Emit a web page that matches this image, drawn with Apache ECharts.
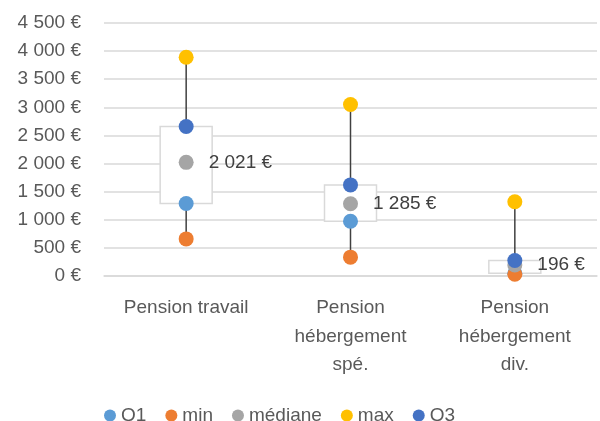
<!DOCTYPE html>
<html>
<head>
<meta charset="utf-8">
<script src="https://cdn.jsdelivr.net/npm/echarts@6/dist/echarts.min.js"></script>
<style>
html, body { margin: 0; padding: 0; background: #fff; }
#chart { width: 600px; height: 421px; }
</style>
</head>
<body>
<div id="chart"></div>
<script>
var categories = ['Pension travail', 'Pension\nhébergement\nspé.', 'Pension\nhébergement\ndiv.']
var q1 = [1290, 975, 50]
var minV = [660, 335, 30]
var mediane = [2021, 1285, 196]
var maxV = [3890, 3050, 1320]
var q3 = [2660, 1620, 275]

var font = 'Liberation Sans'
function euro (v) {
  return String(Math.round(v)).replace(/\B(?=(\d{3})+(?!\d))/g, ' ') + ' €'
}

var chart = echarts.init(document.getElementById('chart'))

function dot (name, data, color) {
  return {
    name: name,
    type: 'scatter',
    data: data,
    symbol: 'circle',
    symbolSize: 15,
    itemStyle: { color: color, opacity: 1 },
    z: 5
  }
}

var medSeries = dot('médiane', mediane, '#A5A5A5')
medSeries.label = {
  show: true,
  position: 'right',
  distance: 15,
  fontFamily: font,
  fontSize: 19,
  color: '#404040',
  formatter: function (p) { return euro(p.value) }
}

var option = {
  animation: false,
  grid: { left: 104, right: 3, top: 23, bottom: 145 },
  legend: {
    top: 401,
    left: 99,
    icon: 'circle',
    itemWidth: 12,
    itemHeight: 12,
    itemGap: 19,
    textStyle: { fontFamily: font, fontSize: 19, color: '#595959' },
    data: ['Q1', 'min', 'médiane', 'max', 'Q3']
  },
  xAxis: {
    type: 'category',
    data: categories,
    axisLine: { lineStyle: { color: '#D9D9D9', width: 1.5 } },
    axisTick: { show: false },
    axisLabel: { fontFamily: font, fontSize: 19, color: '#595959', lineHeight: 28.5, margin: 18, interval: 0 }
  },
  yAxis: {
    type: 'value',
    min: 0,
    max: 4500,
    interval: 500,
    axisLine: { show: false },
    axisTick: { show: false },
    splitLine: { lineStyle: { color: '#D9D9D9', width: 1.5 } },
    axisLabel: { fontFamily: font, fontSize: 19, color: '#595959', margin: 23, formatter: euro }
  },
  series: [
    {
      name: 'whisker',
      type: 'custom',
      data: categories.map(function (c, i) { return [i, minV[i], maxV[i]] }),
      renderItem: function (params, api) {
        var a = api.coord([api.value(0), api.value(1)])
        var b = api.coord([api.value(0), api.value(2)])
        return {
          type: 'line',
          shape: { x1: a[0], y1: a[1], x2: b[0], y2: b[1] },
          style: { stroke: '#404040', lineWidth: 1.5 }
        }
      },
      z: 2
    },
    {
      name: 'box',
      type: 'custom',
      data: categories.map(function (c, i) { return [i, q1[i], q3[i]] }),
      renderItem: function (params, api) {
        var a = api.coord([api.value(0), api.value(1)])
        var b = api.coord([api.value(0), api.value(2)])
        return {
          type: 'rect',
          shape: { x: a[0] - 26, y: b[1], width: 52, height: a[1] - b[1] },
          style: { fill: '#fff', stroke: '#D9D9D9', lineWidth: 1.5 }
        }
      },
      z: 3
    },
    dot('Q1', q1, '#5B9BD5'),
    dot('min', minV, '#ED7D31'),
    medSeries,
    dot('max', maxV, '#FFC000'),
    dot('Q3', q3, '#4472C4')
  ]
}

chart.setOption(option)
</script>
</body>
</html>
